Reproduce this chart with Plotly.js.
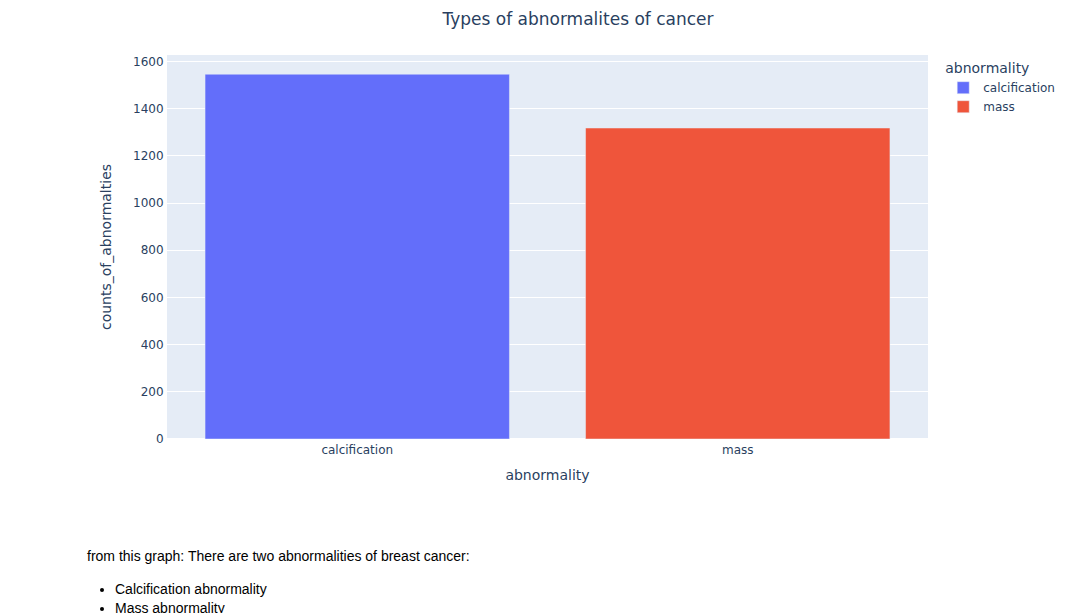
<!DOCTYPE html>
<html>
<head>
<meta charset="utf-8">
<script src="https://cdn.plot.ly/plotly-3.0.1.min.js"></script>
<style>
  body { margin: 0; padding: 0; background: #fff; font-family: "Liberation Sans", Arial, sans-serif; }
  #chart { width: 1083px; height: 520px; }
  #notes { font-size: 14px; color: #000; margin-left: 87px; }
  #notes p { margin: 27px 0 0 0; line-height: 19px; }
  #notes ul { margin: 14px 0 0 0; padding-left: 28px; line-height: 19px; }
</style>
</head>
<body>
<div id="chart"></div>
<div id="notes">
  <p>from this graph: There are two abnormalities of breast cancer:</p>
  <ul>
    <li>Calcification abnormality</li>
    <li>Mass abnormality</li>
  </ul>
</div>
<script>
const categories = ["calcification", "mass"];
const counts = [1546, 1318];
const colors = ["#636efa", "#EF553B"];

const traces = categories.map((c, i) => ({
  type: "bar",
  name: c,
  x: [c],
  y: [counts[i]],
  marker: { color: colors[i], line: { color: "#E5ECF6", width: 0.5 } },
  legendgroup: c,
  showlegend: true
}));

const layout = {
  width: 1083,
  height: 520,
  margin: { l: 167, r: 155, t: 55, b: 81 },
  paper_bgcolor: "#ffffff",
  plot_bgcolor: "#E5ECF6",
  font: { family: "Verdana, 'DejaVu Sans', sans-serif", size: 12, color: "#2a3f5f" },
  title: { text: "Types of abnormalites of cancer", x: 0.5337, xanchor: "center", y: 0.9635, yanchor: "middle", yref: "container", font: { size: 17 } },
  barmode: "relative",
  xaxis: {
    title: { text: "abnormality", font: { size: 14 }, standoff: 13 },
    categoryorder: "array", categoryarray: categories,
    showgrid: false, linecolor: "white", ticks: "", automargin: true
  },
  yaxis: {
    title: { text: "counts_of_abnormalties", font: { size: 14 }, standoff: 18 },
    gridcolor: "white", linecolor: "white", ticks: "",
    zerolinecolor: "white", zerolinewidth: 2, automargin: true
  },
  legend: { title: { text: "abnormality", font: { size: 14 } }, tracegroupgap: 0 }
};

Plotly.newPlot("chart", traces, layout, { displayModeBar: false });
</script>
</body>
</html>
